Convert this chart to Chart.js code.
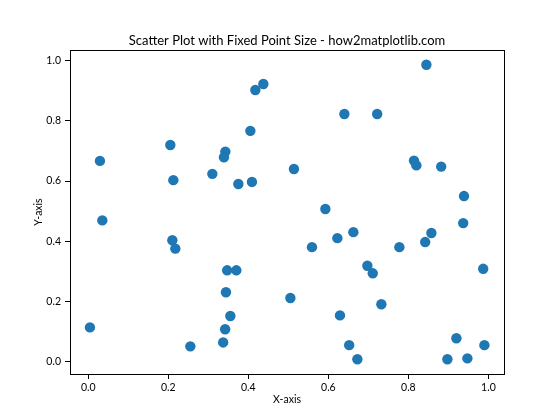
<!DOCTYPE html>
<html><head><meta charset="utf-8">
<script src="https://cdn.jsdelivr.net/npm/chart.js@4/dist/chart.umd.min.js"></script>
<style>html,body{margin:0;padding:0;background:#fff}#c{display:block}</style>
</head><body>
<canvas id="c" width="560" height="420"></canvas>
<script>
const xValues = [0.029,0.205,0.2125,0.31,0.3425,0.339,0.375,0.409,0.405,0.4175,0.4375,
  0.514,0.64,0.722,0.845,0.814,0.82,0.882,0.939,0.5925,
  0.937,0.559,0.6225,0.6625,0.7775,0.842,0.8575,0.6975,0.711,0.987,0.505,0.7325,0.629,0.652,0.6725,0.92,0.8975,0.9475,0.99,
  0.035,0.21,0.2175,0.347,0.37,0.344,0.355,0.342,0.337,0.255,0.004];
const yValues = [0.667,0.72,0.603,0.624,0.698,0.679,0.59,0.597,0.767,0.903,0.923,
  0.64,0.823,0.823,0.987,0.668,0.652,0.648,0.55,0.507,
  0.46,0.38,0.41,0.43,0.38,0.397,0.427,0.318,0.293,0.308,0.211,0.19,0.153,0.054,0.007,0.077,0.007,0.01,0.054,
  0.469,0.403,0.375,0.303,0.303,0.23,0.151,0.107,0.063,0.05,0.113];
const xTicks = [0.0,0.2,0.4,0.6,0.8,1.0];
const yTicks = [0.0,0.2,0.4,0.6,0.8,1.0];
const titleText = 'Scatter Plot with Fixed Point Size - how2matplotlib.com';
const xLabel = 'X-axis';
const yLabel = 'Y-axis';

const points = xValues.map((x,i)=>({x:x,y:yValues[i]}));
const FONT = "Lato, 'Noto Sans', sans-serif";

const frame = {
  id:'frame',
  afterDatasetsDraw(chart){
    const a = chart.chartArea, ctx = chart.ctx;
    ctx.save();
    ctx.strokeStyle = '#000';
    ctx.lineWidth = 1;
    ctx.strokeRect(Math.round(a.left)+0.5, Math.round(a.top)+0.5, Math.round(a.right-a.left), Math.round(a.bottom-a.top));
    ctx.fillStyle = '#000';
    ctx.font = "13px " + FONT;
    ctx.textAlign = 'center';
    ctx.textBaseline = 'alphabetic';
    ctx.fillText(titleText, (a.left+a.right)/2, 44.5);
    ctx.restore();
  }
};

new Chart(document.getElementById('c'), {
  type:'scatter',
  data:{datasets:[{data:points, backgroundColor:'#1f77b4', borderWidth:0, pointRadius:5.2, pointHoverRadius:5.2}]},
  options:{
    responsive:false, animation:false, devicePixelRatio:1,
    layout:{padding:{left:32,right:56,top:50,bottom:10}},
    plugins:{
      legend:{display:false}, tooltip:{enabled:false}, title:{display:false}
    },
    scales:{
      x:{type:'linear', min:-0.0458, max:1.039,
        afterBuildTicks(s){ s.ticks = xTicks.map(v=>({value:v})); },
        afterFit(s){ s.height = 36; },
        grid:{drawOnChartArea:false, drawTicks:true, tickLength:5, color:'#000'},
        border:{display:false},
        ticks:{color:'#000', font:{family:FONT,size:10.5}, padding:2, callback:v=>v.toFixed(1), maxRotation:0},
        title:{display:true, text:xLabel, color:'#000', font:{family:FONT,size:10.5}, padding:{top:0,bottom:4}}
      },
      y:{type:'linear', min:-0.042, max:1.036,
        afterBuildTicks(s){ s.ticks = yTicks.map(v=>({value:v})); },
        afterFit(s){ s.width = 38; },
        grid:{drawOnChartArea:false, drawTicks:true, tickLength:5, color:'#000'},
        border:{display:false},
        ticks:{color:'#000', font:{family:FONT,size:10.5}, padding:4, callback:v=>v.toFixed(1)},
        title:{display:true, text:yLabel, color:'#000', font:{family:FONT,size:10.5}, padding:{top:0,bottom:0}}
      }
    }
  },
  plugins:[frame]
});
</script>
</body></html>
